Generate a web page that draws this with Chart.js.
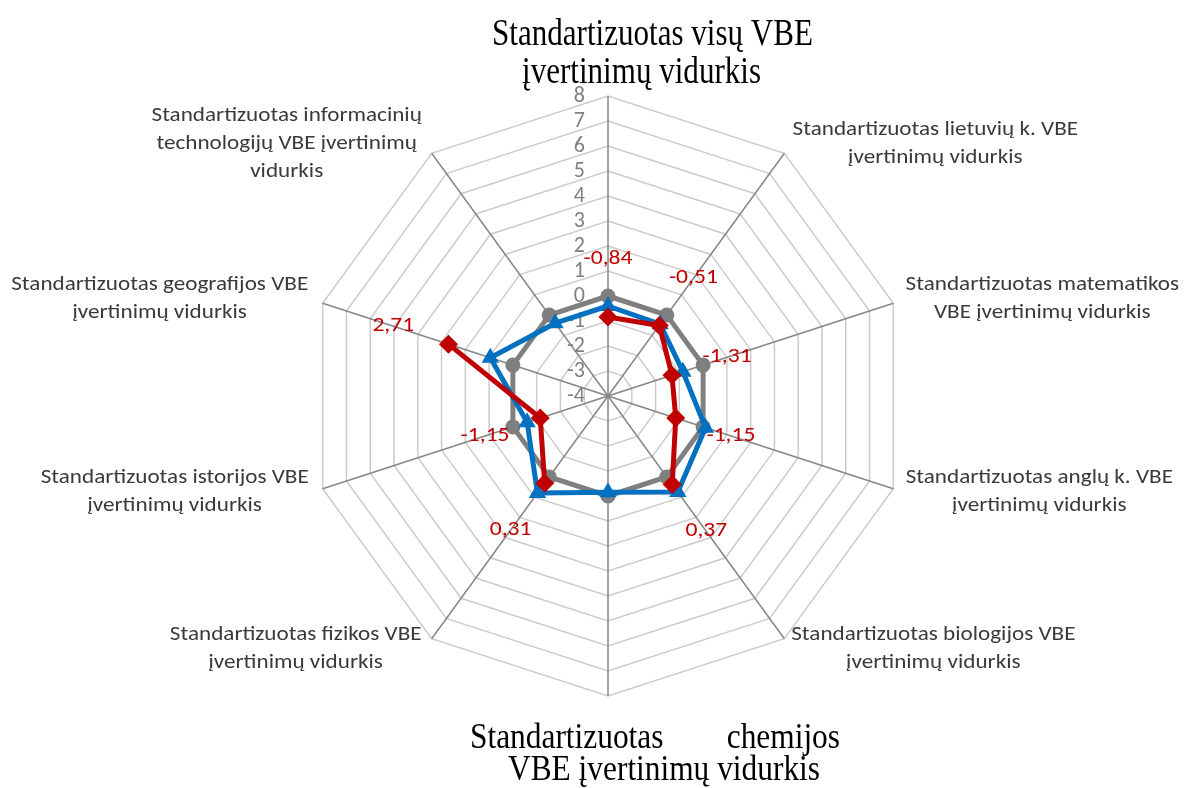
<!DOCTYPE html>
<html>
<head>
<meta charset="utf-8">
<script src="https://cdn.jsdelivr.net/npm/chart.js@4.4.0/dist/chart.umd.min.js"></script>
<style>
  html, body { margin: 0; padding: 0; background: #fff; }
  #wrap { width: 1184px; height: 788px; position: relative; }
</style>
</head>
<body>
<div id="wrap"><canvas id="radarChart"></canvas></div>
<script>
// Subjects, clockwise from the top
const categories = [
    'Standartizuotas visų VBE įvertinimų vidurkis',
    'Standartizuotas lietuvių k. VBE įvertinimų vidurkis',
    'Standartizuotas matematikos VBE įvertinimų vidurkis',
    'Standartizuotas anglų k. VBE įvertinimų vidurkis',
    'Standartizuotas biologijos VBE įvertinimų vidurkis',
    'Standartizuotas chemijos VBE įvertinimų vidurkis',
    'Standartizuotas fizikos VBE įvertinimų vidurkis',
    'Standartizuotas istorijos VBE įvertinimų vidurkis',
    'Standartizuotas geografijos VBE įvertinimų vidurkis',
    'Standartizuotas informacinių technologijų VBE įvertinimų vidurkis'
];

// Line breaks as they appear around the chart
const categoryLines = [
    ['Standartizuotas visų VBE', 'įvertinimų vidurkis'],
    ['Standartizuotas lietuvių k. VBE', 'įvertinimų vidurkis'],
    ['Standartizuotas matematikos', 'VBE įvertinimų vidurkis'],
    ['Standartizuotas anglų k. VBE', 'įvertinimų vidurkis'],
    ['Standartizuotas biologijos VBE', 'įvertinimų vidurkis'],
    ['Standartizuotas', 'chemijos', 'VBE įvertinimų vidurkis'],
    ['Standartizuotas fizikos VBE', 'įvertinimų vidurkis'],
    ['Standartizuotas istorijos VBE', 'įvertinimų vidurkis'],
    ['Standartizuotas geografijos VBE', 'įvertinimų vidurkis'],
    ['Standartizuotas informacinių', 'technologijų VBE įvertinimų', 'vidurkis']
];

// Series values
const meanValues = [0, 0, 0, 0, 0, 0, 0, 0, 0, 0];
const blueValues = [-0.4, -0.45, -0.85, 0.1, 0.75, -0.15, 0.8, -0.6, 0.95, -0.4];
const redValues = [-0.84, -0.51, -1.31, -1.15, 0.37, null, 0.31, -1.15, 2.71, null];

// Radial axis ticks
const tickLabels = ['-4', '-3', '-2', '-1', '0', '1', '2', '3', '4', '5', '6', '7', '8'];

const SANS = 'Carlito, Lato, "Open Sans", sans-serif';
const SERIF = '"Liberation Serif", "Times New Roman", serif';

// Offsets of the side labels from the end of their spoke (block centre)
const sideLabelOffsets = {
    1: [151, -9.5], 2: [149, -4], 3: [146, 3], 4: [149, 10],
    6: [-136, 10], 7: [-148, 3], 8: [-163, -4], 9: [-145, -9.5]
};

function drawScaled(ctx, text, x, y, sx) {
    ctx.save();
    ctx.translate(x, y);
    ctx.scale(sx, 1);
    ctx.fillText(text, 0, 0);
    ctx.restore();
}

const radarText = {
    id: 'radarText',
    beforeDatasetsDraw(chart) {
        const ctx = chart.ctx;
        const r = chart.scales.r;
        ctx.save();
        ctx.font = '22px ' + SANS;
        ctx.fillStyle = '#808080';
        ctx.textAlign = 'right';
        ctx.textBaseline = 'middle';
        tickLabels.forEach(t => {
            const d = r.getDistanceFromCenterForValue(Number(t));
            ctx.fillText(t, r.xCenter - 23, r.yCenter - d);
        });
        ctx.restore();
    },
    afterDraw(chart) {
        const ctx = chart.ctx;
        const r = chart.scales.r;
        const outer = r.drawingArea;
        ctx.save();

        // side labels
        ctx.font = '20px ' + SANS;
        const sx = 297 / ctx.measureText('Standartizuotas geografijos VBE').width;
        ctx.fillStyle = '#3a3a3a';
        ctx.textAlign = 'center';
        ctx.textBaseline = 'middle';
        const lh = 28;
        Object.keys(sideLabelOffsets).forEach(k => {
            const i = Number(k);
            const end = r.getPointPosition(i, outer);
            const [dx, dy] = sideLabelOffsets[i];
            const lines = categoryLines[i];
            const top = end.y + dy - (lines.length - 1) * lh / 2;
            lines.forEach((ln, j) => drawScaled(ctx, ln, end.x + dx, top + j * lh, sx));
        });

        // top label (serif)
        const topEnd = r.getPointPosition(0, outer);
        ctx.fillStyle = '#000';
        ctx.textBaseline = 'alphabetic';
        ctx.textAlign = 'left';
        ctx.font = '38px ' + SERIF;
        const sxTop = 321 / ctx.measureText(categoryLines[0][0]).width;
        drawScaled(ctx, categoryLines[0][0], topEnd.x - 116, topEnd.y - 51, sxTop);
        drawScaled(ctx, categoryLines[0][1], topEnd.x - 86, topEnd.y - 13, sxTop);

        // bottom label (serif, justified first line)
        const botEnd = r.getPointPosition(5, outer);
        ctx.font = '35px ' + SERIF;
        const sxBot = 312 / ctx.measureText(categoryLines[5][2]).width;
        drawScaled(ctx, categoryLines[5][0], botEnd.x - 138, botEnd.y + 52, sxBot);
        ctx.textAlign = 'right';
        drawScaled(ctx, categoryLines[5][1], botEnd.x + 232, botEnd.y + 52, sxBot);
        ctx.textAlign = 'left';
        drawScaled(ctx, categoryLines[5][2], botEnd.x - 100, botEnd.y + 84, sxBot);

        // data labels for the red series
        ctx.font = '20px ' + SANS;
        const sxVal = 49 / ctx.measureText('-0,84').width;
        ctx.fillStyle = '#c00000';
        ctx.textAlign = 'center';
        ctx.textBaseline = 'middle';
        redValues.forEach((v, i) => {
            if (v === null) return;
            const p = r.getPointPosition(i, r.getDistanceFromCenterForValue(v) + 58);
            drawScaled(ctx, v.toFixed(2).replace('.', ','), p.x, p.y, sxVal);
        });
        ctx.restore();
    }
};

const ctx = document.getElementById('radarChart').getContext('2d');
const radarChart = new Chart(ctx, {
    type: 'radar',
    data: {
        labels: categories,
        datasets: [{
            label: 'Vidurkis',
            data: meanValues,
            borderColor: '#7f7f7f',
            backgroundColor: '#7f7f7f',
            pointBackgroundColor: '#7f7f7f',
            pointBorderColor: '#7f7f7f',
            pointStyle: 'circle',
            pointRadius: 5,
            borderWidth: 5,
            fill: false,
            order: 3
        }, {
            label: 'Mokykla',
            data: blueValues,
            borderColor: '#0070c0',
            backgroundColor: '#0070c0',
            pointBackgroundColor: '#0070c0',
            pointBorderColor: '#0070c0',
            pointStyle: 'triangle',
            pointRadius: 5,
            borderWidth: 5,
            fill: false,
            order: 2
        }, {
            label: 'Klasė',
            data: redValues,
            borderColor: '#c00000',
            backgroundColor: '#c00000',
            pointBackgroundColor: '#c00000',
            pointBorderColor: '#c00000',
            pointStyle: 'rectRot',
            pointRadius: 6,
            borderWidth: 5,
            fill: false,
            spanGaps: false,
            order: 1
        }]
    },
    options: {
        responsive: true,
        maintainAspectRatio: false,
        animation: false,
        layout: {
            padding: { left: 132, right: 100, top: 96, bottom: 92 }
        },
        plugins: {
            legend: { display: false },
            tooltip: { enabled: false }
        },
        elements: {
            line: { tension: 0, borderJoinStyle: 'round' }
        },
        scales: {
            r: {
                min: -4,
                max: 8,
                ticks: { stepSize: 1, display: false },
                grid: { color: '#cccccc', lineWidth: 1.5 },
                angleLines: { color: '#868686', lineWidth: 1.5 },
                pointLabels: { display: false }
            }
        }
    },
    plugins: [radarText]
});
</script>
</body>
</html>
